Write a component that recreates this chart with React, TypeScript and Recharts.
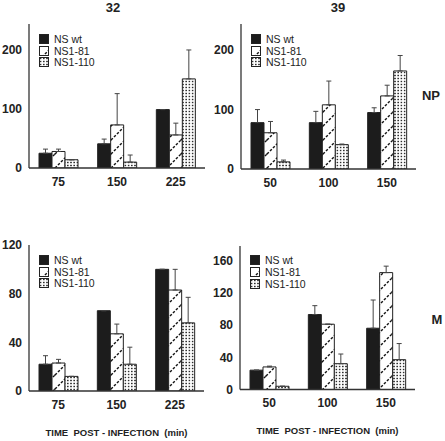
import { BarChart, Bar, XAxis, YAxis, ErrorBar, Legend } from 'recharts'

const FONT = "'Liberation Sans', Arial, Helvetica, sans-serif"

const seriesNames = ['NS wt', 'NS1-81', 'NS1-110']

const times32 = ['75', '150', '225']
const times39 = ['50', '100', '150']

// NP, strain 32
const np32Wt = [25, 41, 99]
const np32WtErr = [7, 8, 0]
const np32N81 = [28, 73, 56]
const np32N81Err = [4, 53, 20]
const np32N110 = [14, 10, 151]
const np32N110Err = [0, 12, 49]

// NP, strain 39
const np39Wt = [78, 78, 95]
const np39WtErr = [22, 19, 8]
const np39N81 = [61, 108, 123]
const np39N81Err = [19, 40, 18]
const np39N110 = [12, 41, 165]
const np39N110Err = [3, 1, 26]

// M, strain 32
const m32Wt = [22, 66, 100]
const m32WtErr = [7, 0, 0]
const m32N81 = [23, 47, 83]
const m32N81Err = [3, 8, 17]
const m32N110 = [12, 22, 56]
const m32N110Err = [0, 14, 21]

// M, strain 39
const m39Wt = [24, 93, 76]
const m39WtErr = [0, 11, 35]
const m39N81 = [28, 81, 145]
const m39N81Err = [1, 0, 8]
const m39N110 = [4, 32, 37]
const m39N110Err = [0, 12, 20]

const npTicks = [0, 100, 200]
const m32Ticks = [0, 40, 80, 120]
const m39Ticks = [0, 40, 80, 120, 160]

const xLabel = 'TIME\u00a0\u00a0POST - INFECTION\u00a0\u00a0(min)'

function buildRows(times: string[], wt: number[], wtE: number[], n81: number[], n81E: number[], n110: number[], n110E: number[]) {
  return times.map((time, i) => ({
    time,
    wt: wt[i],
    n81: n81[i],
    n110: n110[i],
    wtErr: [0, wtE[i]],
    n81Err: [0, n81E[i]],
    n110Err: [0, n110E[i]],
  }))
}

const INK = '#222'
const FRAME = '#333'

function fillFor(name: string, pid: string) {
  if (name === 'NS wt') return '#1c1c1c'
  if (name === 'NS1-81') return `url(#hatch-${pid})`
  return `url(#dots-${pid})`
}

interface PanelProps {
  pid: string
  x: number
  y: number
  w: number
  h: number
  rows: any[]
  domain: [number, number]
  ticks: number[]
  showXLabel?: boolean
}

function Panel({ pid, x, y, w, h, rows, domain, ticks, showXLabel }: PanelProps) {
  const yw = 30
  const top = 10
  const right = 6
  const xh = 24
  const bottom = showXLabel ? 24 : 0
  const tickStyle = { fontSize: 12, fontWeight: 'bold', fill: INK, fontFamily: FONT }

  const legendContent = (props: any) => {
    const items = [...(props.payload || [])].sort(
      (a: any, b: any) => seriesNames.indexOf(a.value) - seriesNames.indexOf(b.value)
    )
    return (
      <div style={{ fontFamily: FONT, fontSize: 10.5, color: INK }}>
        {items.map((entry: any) => (
          <div key={entry.value} style={{ display: 'flex', alignItems: 'center', height: 11.7 }}>
            <svg width={10} height={10} style={{ marginRight: 5, display: 'block' }}>
              <rect x={0.5} y={0.5} width={9} height={9} fill={fillFor(entry.value, pid)} stroke={INK} />
            </svg>
            <span style={{ lineHeight: '10px' }}>{entry.value}</span>
          </div>
        ))}
      </div>
    )
  }

  return (
    <div style={{ position: 'absolute', left: x - yw, top: y - top }}>
      <BarChart
        width={w + yw + right}
        height={h + top + xh + bottom}
        data={rows}
        margin={{ top, right, left: 0, bottom }}
        barGap={0}
        barSize={13}
      >
        <defs>
          <pattern id={`hatch-${pid}`} patternUnits="userSpaceOnUse" width={14} height={14}>
            <rect width={14} height={14} fill="#fff" />
            <line x1={0} y1={14} x2={14} y2={0} stroke="#111" strokeWidth={1.4} strokeDasharray="2.6 1.6" />
            <line x1={-1} y1={1} x2={1} y2={-1} stroke="#111" strokeWidth={1.4} />
            <line x1={13} y1={15} x2={15} y2={13} stroke="#111" strokeWidth={1.4} />
          </pattern>
          <pattern id={`dots-${pid}`} patternUnits="userSpaceOnUse" width={3.2} height={3}>
            <rect width={3.2} height={3} fill="#fff" />
            <rect x={0.9} y={0.8} width={1.4} height={1.4} fill="#111" />
          </pattern>
        </defs>
        <XAxis
          dataKey="time"
          height={xh}
          tickLine={false}
          axisLine={{ stroke: FRAME, strokeWidth: 1.3 }}
          tick={tickStyle}
          tickMargin={3}
          label={
            showXLabel
              ? { value: xLabel, position: 'bottom', offset: 14, fontSize: 9.5, fontWeight: 'bold', fill: INK, fontFamily: FONT }
              : undefined
          }
        />
        <XAxis
          xAxisId="frame"
          dataKey="time"
          orientation="top"
          height={0}
          tick={false}
          tickLine={false}
          axisLine={{ stroke: FRAME, strokeWidth: 1.3 }}
        />
        <YAxis
          width={yw}
          domain={domain}
          ticks={ticks}
          allowDataOverflow
          tickLine={false}
          axisLine={{ stroke: FRAME, strokeWidth: 1.3 }}
          tick={tickStyle}
          tickMargin={1}
        />
        <YAxis
          yAxisId="frame"
          orientation="right"
          width={0}
          domain={domain}
          allowDataOverflow
          tick={false}
          tickLine={false}
          axisLine={{ stroke: FRAME, strokeWidth: 1.3 }}
        />
        <Legend
          layout="vertical"
          align="center"
          verticalAlign="middle"
          content={legendContent}
          wrapperStyle={{ left: yw + 10, top: top + 9, width: 'auto', height: 'auto' }}
        />
        <Bar dataKey="wt" name="NS wt" fill={fillFor('NS wt', pid)} stroke={INK} strokeWidth={1} isAnimationActive={false}>
          <ErrorBar dataKey="wtErr" width={2.5} stroke="#444" strokeWidth={1} direction="y" />
        </Bar>
        <Bar dataKey="n81" name="NS1-81" fill={fillFor('NS1-81', pid)} stroke={INK} strokeWidth={1} isAnimationActive={false}>
          <ErrorBar dataKey="n81Err" width={2.5} stroke="#444" strokeWidth={1} direction="y" />
        </Bar>
        <Bar dataKey="n110" name="NS1-110" fill={fillFor('NS1-110', pid)} stroke={INK} strokeWidth={1} isAnimationActive={false}>
          <ErrorBar dataKey="n110Err" width={2.5} stroke="#444" strokeWidth={1} direction="y" />
        </Bar>
      </BarChart>
    </div>
  )
}

const textStyle = (left: number, top: number) => ({
  position: 'absolute' as const,
  left,
  top,
  transform: 'translate(-50%, -50%)',
  fontFamily: FONT,
  fontSize: 13,
  fontWeight: 'bold' as const,
  lineHeight: 1,
  color: INK,
  whiteSpace: 'nowrap' as const,
})

export default function App() {
  const np32 = buildRows(times32, np32Wt, np32WtErr, np32N81, np32N81Err, np32N110, np32N110Err)
  const np39 = buildRows(times39, np39Wt, np39WtErr, np39N81, np39N81Err, np39N110, np39N110Err)
  const m32 = buildRows(times32, m32Wt, m32WtErr, m32N81, m32N81Err, m32N110, m32N110Err)
  const m39 = buildRows(times39, m39Wt, m39WtErr, m39N81, m39N81Err, m39N110, m39N110Err)

  return (
    <div style={{ position: 'absolute', left: 0, top: 0, width: 445, height: 441, background: '#fff', overflow: 'hidden' }}>
      <div style={textStyle(113, 7)}>32</div>
      <div style={textStyle(338, 7)}>39</div>
      <div style={textStyle(431, 95)}>NP</div>
      <div style={textStyle(437, 319)}>M</div>
      <Panel pid="np32" x={29} y={24} w={176} h={144} rows={np32} domain={[0, 244]} ticks={npTicks} />
      <Panel pid="np39" x={241} y={24} w={175} h={145} rows={np39} domain={[0, 244]} ticks={npTicks} />
      <Panel pid="m32" x={29} y={245} w={175} h={146} rows={m32} domain={[0, 120]} ticks={m32Ticks} showXLabel />
      <Panel pid="m39" x={240} y={245.5} w={175} h={143.5} rows={m39} domain={[0, 178]} ticks={m39Ticks} showXLabel />
    </div>
  )
}
